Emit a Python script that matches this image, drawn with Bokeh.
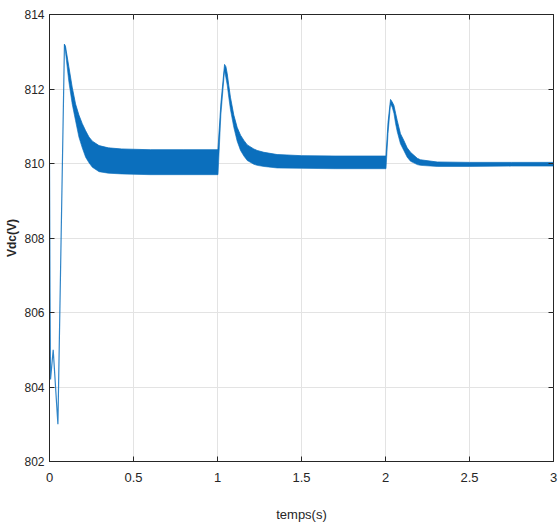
from bokeh.plotting import figure
from bokeh.models import LinearAxis, FixedTicker
from bokeh.embed import file_html
from bokeh.resources import INLINE

# ---- data ----
# initial transient (single thin trace)
t_start = [0.0, 0.003, 0.006, 0.022, 0.05, 0.089]
v_start = [810.0, 806.5, 804.2, 805.0, 803.0, 813.2]

# envelope of the dense ripple band (upper / lower limits)
t_env = [0.089, 0.095, 0.115, 0.135, 0.155, 0.175, 0.195, 0.215, 0.235, 0.255, 0.295, 0.35, 0.43, 0.6, 0.8, 1.0,
         1.003, 1.02, 1.042, 1.05, 1.058, 1.067, 1.077, 1.097, 1.117, 1.137, 1.157, 1.177, 1.216, 1.236, 1.276, 1.355, 1.5, 1.7, 2.0,
         2.003, 2.015, 2.03, 2.04, 2.05, 2.06, 2.07, 2.089, 2.109, 2.129, 2.149, 2.189, 2.208, 2.308, 2.5, 2.75, 3.0]
v_upper = [813.2, 813.15, 812.6, 812.05, 811.6, 811.3, 811.07, 810.88, 810.71, 810.6, 810.48, 810.42, 810.39, 810.37, 810.37, 810.37,
           810.4, 811.6, 812.66, 812.6, 812.41, 812.1, 811.78, 811.3, 810.97, 810.76, 810.62, 810.5, 810.39, 810.35, 810.3, 810.24, 810.21, 810.2, 810.2,
           810.22, 811.1, 811.72, 811.65, 811.56, 811.35, 811.15, 810.8, 810.62, 810.42, 810.3, 810.14, 810.1, 810.04, 810.03, 810.03, 810.03]
v_lower = [813.2, 813.0, 812.2, 811.6, 811.15, 810.71, 810.42, 810.17, 810.02, 809.9, 809.78, 809.74, 809.72, 809.70, 809.70, 809.70,
           809.70, 811.3, 812.5, 812.3, 812.1, 811.78, 811.45, 810.97, 810.6, 810.35, 810.2, 810.08, 809.98, 809.95, 809.92, 809.88, 809.87, 809.86, 809.86,
           809.86, 810.8, 811.6, 811.51, 811.35, 811.07, 810.85, 810.53, 810.35, 810.17, 810.06, 809.97, 809.95, 809.92, 809.92, 809.93, 809.93]

x_ticks = [0, 0.5, 1, 1.5, 2, 2.5, 3]
y_ticks = [802, 804, 806, 808, 810, 812, 814]
x_label = "temps(s)"
y_label = "Vdc(V)"

COLOR = "#0b6fbd"
FONT = "Liberation Sans"
INK = "#262626"

p = figure(width=559, height=529, output_backend="svg", toolbar_location=None,
           x_range=(0, 3), y_range=(802, 814),
           min_border_left=49, min_border_top=14, min_border_right=6, min_border_bottom=68)
p.background_fill_color = "white"
p.border_fill_color = "white"
p.outline_line_color = INK
p.outline_line_width = 1

p.varea(x=t_env, y1=v_lower, y2=v_upper, fill_color=COLOR)
p.line(t_start, v_start, line_color=COLOR, line_width=1.2, line_alpha=0.85)
p.line(t_env, v_upper, line_color=COLOR, line_width=0.8)
p.line(t_env, v_lower, line_color=COLOR, line_width=1.0, line_alpha=0.6)

for ax in (p.xaxis[0], p.yaxis[0]):
    ax.axis_line_color = INK
    ax.major_tick_in = 5
    ax.major_tick_out = 0
    ax.minor_tick_line_color = None
    ax.major_tick_line_color = INK
    ax.major_label_text_font = FONT
    ax.major_label_text_color = INK
    ax.axis_label_text_font = FONT
    ax.axis_label_text_font_size = "13px"
    ax.axis_label_text_color = INK
    ax.axis_label_text_font_style = "normal"

p.xaxis.major_label_text_font_size = "13px"
p.yaxis.major_label_text_font_size = "12px"
p.xaxis[0].ticker = FixedTicker(ticks=x_ticks)
p.yaxis[0].ticker = FixedTicker(ticks=y_ticks)
p.xaxis[0].major_label_overrides = {0: "0", 1: "1", 2: "2", 3: "3"}
p.xaxis.axis_label = x_label
p.yaxis.axis_label = y_label
p.yaxis.axis_label_text_font_style = "bold"
p.yaxis.axis_label_text_font_size = "12px"
p.xaxis.major_label_standoff = 11
p.yaxis.major_label_standoff = 5
p.xaxis.axis_label_standoff = 22
p.yaxis.axis_label_standoff = 2

for loc, tk in (("above", x_ticks), ("right", y_ticks)):
    a = LinearAxis(ticker=FixedTicker(ticks=tk), major_tick_in=5, major_tick_out=0,
                   minor_tick_line_color=None, axis_line_color=None,
                   major_tick_line_color=INK, major_label_text_font_size="1px",
                   major_label_text_color=None, major_label_standoff=0)
    p.add_layout(a, loc)

p.grid.grid_line_color = "#e3e3e3"
p.grid.grid_line_width = 1
p.xgrid.ticker = FixedTicker(ticks=x_ticks)
p.ygrid.ticker = FixedTicker(ticks=y_ticks)

open("out.html", "w").write(file_html(p, INLINE))
